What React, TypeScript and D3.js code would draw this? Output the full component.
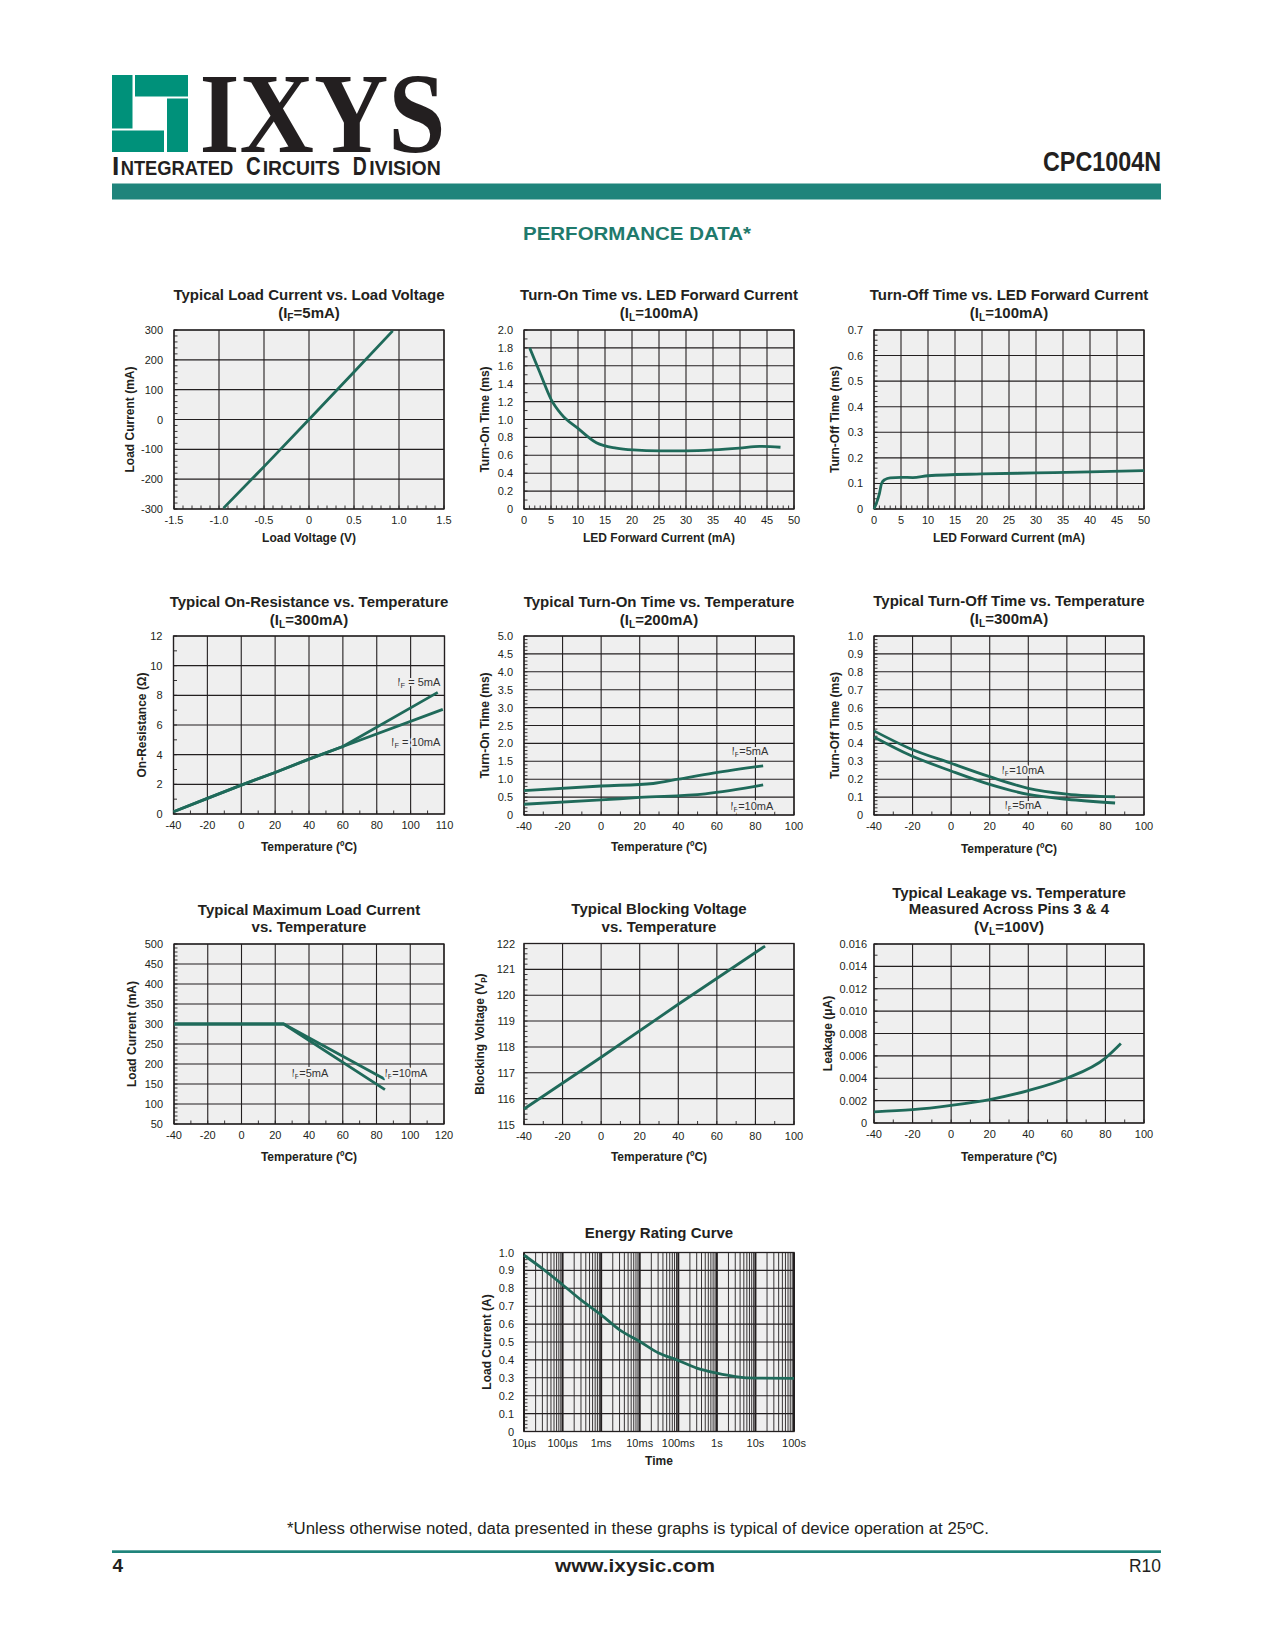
import React from 'react';
import * as d3 from 'd3';

const FONT = '"Liberation Sans", Arial, Helvetica, sans-serif';
const NARROW = '"Liberation Sans Narrow", "Liberation Sans", Arial, sans-serif';
const SERIF = '"Liberation Serif", "Times New Roman", serif';
const CURVE = '#1f6a5a';
const BG = '#efefef';
const INK = '#231f20';
const LOGO = '#00917a';
const BAND = '#1f847b';
const TEAL = '#1f7a6c';

// ---------- data ----------
// 1. Load current vs load voltage
const lvVoltage = [-0.95, -0.5, 0, 0.5, 0.93];
const lvCurrent = [-297, -158, 0, 159, 297];
// 2. Turn-on time vs LED forward current
const tonIfCurrent = [1.05, 2.9, 5.06, 6.9, 10, 13.4, 17.1, 20.2, 25.1, 30.1, 35, 39.9, 43.6, 47.5];
const tonIfTime = [1.8, 1.53, 1.22, 1.06, 0.9, 0.74, 0.68, 0.66, 0.65, 0.65, 0.66, 0.68, 0.7, 0.69];
// 3. Turn-off time vs LED forward current
const toffIfCurrent = [0, 0.4, 1.0, 1.4, 2, 3, 5, 7.2, 10, 20, 30, 40, 50];
const toffIfTime = [0, 0.02, 0.06, 0.1, 0.115, 0.122, 0.124, 0.123, 0.13, 0.137, 0.141, 0.145, 0.15];
// 4. On-resistance vs temperature
const ronTemp5 = [-40, -20, 0, 20, 40, 60, 116];
const ronOhm5 = [0.15, 1.05, 1.95, 2.8, 3.7, 4.55, 8.2];
const ronTemp10 = [-40, -20, 0, 20, 40, 60, 119];
const ronOhm10 = [0.15, 1.05, 1.95, 2.8, 3.7, 4.55, 7.05];
// 5. Turn-on time vs temperature
const tonTemp5 = [-40, 0, 27, 40, 58, 84];
const tonMs5 = [0.68, 0.81, 0.88, 1.0, 1.17, 1.37];
const tonTemp10 = [-40, 0, 20, 54, 84];
const tonMs10 = [0.3, 0.42, 0.49, 0.59, 0.84];
// 6. Turn-off time vs temperature
const toffTemp = [-40, -21.5, 0, 20, 40, 60, 85];
const toffMs10 = [0.47, 0.372, 0.289, 0.214, 0.149, 0.117, 0.102];
const toffMs5 = [0.436, 0.335, 0.246, 0.171, 0.115, 0.088, 0.067];
// 7. Max load current vs temperature
const maxTemp = [-40, 25, 85];
const maxCur5 = [300, 300, 136];
const maxCur10 = [300, 300, 162];
// 8. Blocking voltage vs temperature
const blkTemp = [-40, 0, 40, 85];
const blkVolt = [115.6, 117.6, 119.65, 121.9];
// 9. Leakage vs temperature
const lkTemp = [-40, -20, 0, 20, 40, 60, 80, 88];
const lkCur = [0.001, 0.00119, 0.00158, 0.0021, 0.0029, 0.004, 0.0058, 0.0071];
// 10. Energy rating curve
const erTime = [1e-5, 3e-5, 1e-4, 3e-4, 1e-3, 3e-3, 1e-2, 3e-2, 0.1, 0.3, 1, 3, 10, 100];
const erCur = [0.985, 0.91, 0.82, 0.735, 0.652, 0.568, 0.503, 0.44, 0.397, 0.354, 0.326, 0.307, 0.298, 0.297];

// ---------- tick labels ----------
const xLabLV = ['-1.5', '-1.0', '-0.5', '0', '0.5', '1.0', '1.5'];
const yLabLV = ['-300', '-200', '-100', '0', '100', '200', '300'];
const xLabIF = ['0', '5', '10', '15', '20', '25', '30', '35', '40', '45', '50'];
const yLabTon = ['0', '0.2', '0.4', '0.6', '0.8', '1.0', '1.2', '1.4', '1.6', '1.8', '2.0'];
const yLabToff = ['0', '0.1', '0.2', '0.3', '0.4', '0.5', '0.6', '0.7'];
const xLabRon = ['-40', '-20', '0', '20', '40', '60', '80', '100', '110'];
const yLabRon = ['0', '2', '4', '6', '8', '10', '12'];
const xLabT100 = ['-40', '-20', '0', '20', '40', '60', '80', '100'];
const yLabTonT = ['0', '0.5', '1.0', '1.5', '2.0', '2.5', '3.0', '3.5', '4.0', '4.5', '5.0'];
const yLabToffT = ['0', '0.1', '0.2', '0.3', '0.4', '0.5', '0.6', '0.7', '0.8', '0.9', '1.0'];
const xLabT120 = ['-40', '-20', '0', '20', '40', '60', '80', '100', '120'];
const yLabMax = ['50', '100', '150', '200', '250', '300', '350', '400', '450', '500'];
const yLabBlk = ['115', '116', '117', '118', '119', '120', '121', '122'];
const yLabLk = ['0', '0.002', '0.004', '0.006', '0.008', '0.010', '0.012', '0.014', '0.016'];
const xLabER = ['10µs', '100µs', '1ms', '10ms', '100ms', '1s', '10s', '100s'];
const yLabER = ['0', '0.1', '0.2', '0.3', '0.4', '0.5', '0.6', '0.7', '0.8', '0.9', '1.0'];

function rng(a: number, b: number, s: number): number[] {
  const n = Math.round((b - a) / s);
  return d3.range(0, n + 1).map((i) => +(a + i * s).toFixed(8));
}

function sub(main: string, s: string, rest: string, fs: number) {
  return [
    <tspan key="a">{main}</tspan>,
    <tspan key="b" fontSize={fs * 0.68} dy={fs * 0.22}>{s}</tspan>,
    <tspan key="c" dy={-fs * 0.22}>{rest}</tspan>,
  ];
}

type Ln = { xs: number[]; ys: number[]; smooth?: boolean };
type Lbl = { node: React.ReactNode; x: number; y: number; anchor: 'start' | 'middle' | 'end' };
interface Cfg {
  x0: number; y0: number; w: number; h: number;
  xDomain: [number, number]; yDomain: [number, number]; log?: boolean;
  xGrid: number[]; yGrid: number[]; xLabels: string[]; yLabels: string[];
  xMinor: number[]; yMinor: number[]; xMinorGrid?: number[];
  title: React.ReactNode[]; titleY: number[];
  xTitle: React.ReactNode; xTitleY: number; yTitle: React.ReactNode; yTitleX: number;
  lines: Ln[]; labels?: Lbl[]; yLabelGap?: number; xMajorWidth?: number;
}

const TFS = 15;
const LFS = 11;

function Chart({ c }: { c: Cfg }) {
  const xs: any = (c.log ? d3.scaleLog() : d3.scaleLinear()).domain(c.xDomain).range([c.x0, c.x0 + c.w]);
  const ys = d3.scaleLinear().domain(c.yDomain).range([c.y0 + c.h, c.y0]);
  const bottom = c.y0 + c.h;
  const cx = c.x0 + c.w / 2;
  const gap = c.yLabelGap ?? 10;
  return (
    <g>
      <rect x={c.x0} y={c.y0} width={c.w} height={c.h} fill={BG} />
      {(c.xMinorGrid || []).map((v, i) => (
        <line key={'mg' + i} x1={xs(v)} x2={xs(v)} y1={c.y0} y2={bottom} stroke={INK} strokeWidth={0.9} />
      ))}
      {c.xGrid.map((v, i) => (
        <line key={'xg' + i} x1={xs(v)} x2={xs(v)} y1={c.y0} y2={bottom} stroke={INK} strokeWidth={c.xMajorWidth ?? 1.1} />
      ))}
      {c.yGrid.map((v, i) => (
        <line key={'yg' + i} x1={c.x0} x2={c.x0 + c.w} y1={ys(v)} y2={ys(v)} stroke={INK} strokeWidth={1.1} />
      ))}
      {c.xMinor.map((v, i) => (
        <line key={'xm' + i} x1={xs(v)} x2={xs(v)} y1={bottom} y2={bottom - 3.5} stroke={INK} strokeWidth={0.9} />
      ))}
      {c.yMinor.map((v, i) => (
        <line key={'ym' + i} x1={c.x0} x2={c.x0 + 3.5} y1={ys(v)} y2={ys(v)} stroke={INK} strokeWidth={0.9} />
      ))}
      <rect x={c.x0} y={c.y0} width={c.w} height={c.h} fill="none" stroke={INK} strokeWidth={1.3} />
      {c.lines.map((l, i) => {
        const pts: [number, number][] = l.xs.map((x, j) => [x, l.ys[j]]);
        const gen = d3
          .line<[number, number]>()
          .x((d) => xs(d[0]))
          .y((d) => ys(d[1]))
          .curve(l.smooth ? d3.curveMonotoneX : d3.curveLinear);
        return <path key={'l' + i} d={gen(pts) || ''} fill="none" stroke={CURVE} strokeWidth={2.8} strokeLinejoin="round" />;
      })}
      {(c.labels || []).map((lb, i) => (
        <text
          key={'lb' + i}
          x={xs(lb.x)}
          y={ys(lb.y)}
          dy="0.35em"
          textAnchor={lb.anchor}
          fontFamily={NARROW}
          fontSize={11}
          fill="#333"
          stroke={BG}
          strokeWidth={4}
          strokeLinejoin="round"
          paintOrder="stroke"
        >
          {lb.node}
        </text>
      ))}
      {c.xGrid.map((v, i) => (
        <text key={'xl' + i} x={xs(v)} y={bottom + 15} textAnchor="middle" fontSize={LFS} fill={INK}>
          {c.xLabels[i]}
        </text>
      ))}
      {c.yGrid.map((v, i) => (
        <text key={'yl' + i} x={c.x0 - gap} y={ys(v) + 4} textAnchor="end" fontSize={LFS} fill={INK}>
          {c.yLabels[i]}
        </text>
      ))}
      {c.title.map((t, i) => (
        <text key={'t' + i} x={cx} y={c.titleY[i]} textAnchor="middle" fontSize={TFS} fontWeight="bold" fill={INK}>
          {t}
        </text>
      ))}
      <text x={cx} y={c.xTitleY} textAnchor="middle" fontSize={12} fontWeight="bold" fill={INK}>
        {c.xTitle}
      </text>
      <text
        transform={`translate(${c.yTitleX + 4.3},${c.y0 + c.h / 2}) rotate(-90)`}
        textAnchor="middle"
        fontSize={12}
        fontWeight="bold"
        fill={INK}
      >
        {c.yTitle}
      </text>
    </g>
  );
}

const tempTitle = 'Temperature (ºC)';
const erDecades = d3.range(-5, 3).map((p) => Math.pow(10, p));
const erMinor = d3.range(-5, 2).flatMap((p) => d3.range(2, 10).map((k) => k * Math.pow(10, p)));

const charts: Cfg[] = [
  {
    x0: 174, y0: 330, w: 270, h: 179, xDomain: [-1.5, 1.5], yDomain: [-300, 300],
    xGrid: rng(-1.5, 1.5, 0.5), yGrid: rng(-300, 300, 100), xLabels: xLabLV, yLabels: yLabLV,
    xMinor: rng(-1.5, 1.5, 0.1), yMinor: rng(-300, 300, 20),
    title: ['Typical Load Current vs. Load Voltage', sub('(I', 'F', '=5mA)', TFS)], titleY: [300, 317.5],
    xTitle: 'Load Voltage (V)', xTitleY: 541.5, yTitle: 'Load Current (mA)', yTitleX: 130,
    lines: [{ xs: lvVoltage, ys: lvCurrent }], yLabelGap: 11,
  },
  {
    x0: 524, y0: 330, w: 270, h: 179, xDomain: [0, 50], yDomain: [0, 2],
    xGrid: rng(0, 50, 5), yGrid: rng(0, 2, 0.2), xLabels: xLabIF, yLabels: yLabTon,
    xMinor: rng(0, 50, 1), yMinor: rng(0, 2, 0.1),
    title: ['Turn-On Time vs. LED Forward Current', sub('(I', 'L', '=100mA)', TFS)], titleY: [300, 317.5],
    xTitle: 'LED Forward Current (mA)', xTitleY: 541.5, yTitle: 'Turn-On Time (ms)', yTitleX: 485,
    lines: [{ xs: tonIfCurrent, ys: tonIfTime, smooth: true }], yLabelGap: 11,
  },
  {
    x0: 874, y0: 330, w: 270, h: 179, xDomain: [0, 50], yDomain: [0, 0.7],
    xGrid: rng(0, 50, 5), yGrid: rng(0, 0.7, 0.1), xLabels: xLabIF, yLabels: yLabToff,
    xMinor: rng(0, 50, 1), yMinor: rng(0, 0.7, 0.02),
    title: ['Turn-Off Time vs. LED Forward Current', sub('(I', 'L', '=100mA)', TFS)], titleY: [300, 317.5],
    xTitle: 'LED Forward Current (mA)', xTitleY: 541.5, yTitle: 'Turn-Off Time (ms)', yTitleX: 835,
    lines: [{ xs: toffIfCurrent, ys: toffIfTime, smooth: true }], yLabelGap: 11,
  },
  {
    x0: 173.5, y0: 636, w: 271, h: 178, xDomain: [-40, 120], yDomain: [0, 12],
    xGrid: rng(-40, 120, 20), yGrid: rng(0, 12, 2), xLabels: xLabRon, yLabels: yLabRon,
    xMinor: rng(-40, 120, 10), yMinor: rng(0, 12, 1),
    title: ['Typical On-Resistance vs. Temperature', sub('(I', 'L', '=300mA)', TFS)], titleY: [607, 624.5],
    xTitle: tempTitle, xTitleY: 851, yTitle: 'On-Resistance (Ω)', yTitleX: 142,
    lines: [{ xs: ronTemp5, ys: ronOhm5 }, { xs: ronTemp10, ys: ronOhm10 }], yLabelGap: 11,
    labels: [
      { node: sub('I', 'F', ' = 5mA', 11), x: 117.5, y: 8.9, anchor: 'end' },
      { node: sub('I', 'F', ' = 10mA', 11), x: 117.5, y: 4.85, anchor: 'end' },
    ],
  },
  {
    x0: 524, y0: 636, w: 270, h: 179, xDomain: [-40, 100], yDomain: [0, 5],
    xGrid: rng(-40, 100, 20), yGrid: rng(0, 5, 0.5), xLabels: xLabT100, yLabels: yLabTonT,
    xMinor: rng(-40, 100, 10), yMinor: rng(0, 5, 0.1),
    title: ['Typical Turn-On Time vs. Temperature', sub('(I', 'L', '=200mA)', TFS)], titleY: [607, 624.5],
    xTitle: tempTitle, xTitleY: 851, yTitle: 'Turn-On Time (ms)', yTitleX: 485,
    lines: [{ xs: tonTemp5, ys: tonMs5, smooth: true }, { xs: tonTemp10, ys: tonMs10, smooth: true }], yLabelGap: 11,
    labels: [
      { node: sub('I', 'F', '=5mA', 11), x: 77.2, y: 1.79, anchor: 'middle' },
      { node: sub('I', 'F', '=10mA', 11), x: 78.2, y: 0.25, anchor: 'middle' },
    ],
  },
  {
    x0: 874, y0: 636, w: 270, h: 179, xDomain: [-40, 100], yDomain: [0, 1],
    xGrid: rng(-40, 100, 20), yGrid: rng(0, 1, 0.1), xLabels: xLabT100, yLabels: yLabToffT,
    xMinor: rng(-40, 100, 10), yMinor: rng(0, 1, 0.02),
    title: ['Typical Turn-Off Time vs. Temperature', sub('(I', 'L', '=300mA)', TFS)], titleY: [606, 623.5],
    xTitle: tempTitle, xTitleY: 852.5, yTitle: 'Turn-Off Time (ms)', yTitleX: 835,
    lines: [{ xs: toffTemp, ys: toffMs10, smooth: true }, { xs: toffTemp, ys: toffMs5, smooth: true }], yLabelGap: 11,
    labels: [
      { node: sub('I', 'F', '=10mA', 11), x: 37.3, y: 0.251, anchor: 'middle' },
      { node: sub('I', 'F', '=5mA', 11), x: 37.3, y: 0.056, anchor: 'middle' },
    ],
  },
  {
    x0: 174, y0: 944, w: 270, h: 180, xDomain: [-40, 120], yDomain: [50, 500],
    xGrid: rng(-40, 120, 20), yGrid: rng(50, 500, 50), xLabels: xLabT120, yLabels: yLabMax,
    xMinor: rng(-40, 120, 10), yMinor: rng(50, 500, 10),
    title: ['Typical Maximum Load Current', 'vs. Temperature'], titleY: [914.5, 931.5],
    xTitle: tempTitle, xTitleY: 1160.5, yTitle: 'Load Current (mA)', yTitleX: 132,
    lines: [{ xs: maxTemp, ys: maxCur5 }, { xs: maxTemp, ys: maxCur10 }], yLabelGap: 11,
    labels: [
      { node: sub('I', 'F', '=5mA', 11), x: 40.6, y: 177.5, anchor: 'middle' },
      { node: sub('I', 'F', '=10mA', 11), x: 97.5, y: 177.5, anchor: 'middle' },
    ],
  },
  {
    x0: 524, y0: 943.5, w: 270, h: 181, xDomain: [-40, 100], yDomain: [115, 122],
    xGrid: rng(-40, 100, 20), yGrid: rng(115, 122, 1), xLabels: xLabT100, yLabels: yLabBlk,
    xMinor: rng(-40, 100, 10), yMinor: rng(115, 122, 0.2),
    title: ['Typical Blocking Voltage', 'vs. Temperature'], titleY: [914, 931.5],
    xTitle: tempTitle, xTitleY: 1160.5, yTitle: sub('Blocking Voltage (V', 'P', ')', 12), yTitleX: 480,
    lines: [{ xs: blkTemp, ys: blkVolt }], yLabelGap: 9,
  },
  {
    x0: 874, y0: 944, w: 270, h: 179, xDomain: [-40, 100], yDomain: [0, 0.016],
    xGrid: rng(-40, 100, 20), yGrid: rng(0, 0.016, 0.002), xLabels: xLabT100, yLabels: yLabLk,
    xMinor: rng(-40, 100, 10), yMinor: rng(0, 0.016, 0.001),
    title: ['Typical Leakage vs. Temperature', 'Measured Across Pins 3 & 4', sub('(V', 'L', '=100V)', TFS)],
    titleY: [898, 914, 932],
    xTitle: tempTitle, xTitleY: 1160.5, yTitle: 'Leakage (μA)', yTitleX: 828,
    lines: [{ xs: lkTemp, ys: lkCur, smooth: true }], yLabelGap: 7,
  },
  {
    x0: 524, y0: 1252.5, w: 270, h: 179, xDomain: [1e-5, 100], yDomain: [0, 1], log: true,
    xGrid: erDecades, yGrid: rng(0, 1, 0.1), xLabels: xLabER, yLabels: yLabER,
    xMinor: [], yMinor: rng(0, 1, 0.02), xMinorGrid: erMinor, xMajorWidth: 2,
    title: ['Energy Rating Curve'], titleY: [1238],
    xTitle: 'Time', xTitleY: 1464.5, yTitle: 'Load Current (A)', yTitleX: 487,
    lines: [{ xs: erTime, ys: erCur, smooth: true }], yLabelGap: 10,
  },
];

function Header() {
  const hf = { fontFamily: NARROW, fontWeight: 'bold' as const, fill: INK, lengthAdjust: 'spacingAndGlyphs' };
  return (
    <g>
      <rect x={112} y={75} width={20.5} height={53.5} fill={LOGO} />
      <rect x={135} y={75} width={53} height={21.5} fill={LOGO} />
      <rect x={167} y={98.5} width={21} height={53.5} fill={LOGO} />
      <rect x={112} y={130.5} width={52} height={21.5} fill={LOGO} />
      <text x={199.5} y={151.5} fontFamily={SERIF} fontWeight="bold" fontSize={114} textLength={246} lengthAdjust="spacingAndGlyphs" fill={INK}>
        IXYS
      </text>
      <text x={112} y={175} fontSize={25} textLength={7.3} {...hf}>I</text>
      <text x={120.7} y={175} fontSize={21} textLength={112.6} {...hf}>NTEGRATED</text>
      <text x={246} y={175} fontSize={25} textLength={14.7} {...hf}>C</text>
      <text x={262.7} y={175} fontSize={21} textLength={77.3} {...hf}>IRCUITS</text>
      <text x={352.7} y={175} fontSize={25} textLength={14} {...hf}>D</text>
      <text x={369.3} y={175} fontSize={21} textLength={71.4} {...hf}>IVISION</text>
      <rect x={112} y={183.5} width={1049} height={16} fill={BAND} />
      <text x={1161} y={171} textAnchor="end" fontFamily={NARROW} fontWeight="bold" fontSize={27} textLength={118} lengthAdjust="spacingAndGlyphs" fill={INK}>
        CPC1004N
      </text>
      <text x={637} y={240} textAnchor="middle" fontFamily={FONT} fontWeight="bold" fontSize={19} textLength={228} lengthAdjust="spacingAndGlyphs" fill={TEAL}>
        PERFORMANCE DATA*
      </text>
    </g>
  );
}

function Footer() {
  return (
    <g>
      <text x={638} y={1533.5} textAnchor="middle" fontFamily={NARROW} fontSize={16} textLength={702} lengthAdjust="spacingAndGlyphs" fill={INK}>
        *Unless otherwise noted, data presented in these graphs is typical of device operation at 25ºC.
      </text>
      <rect x={112} y={1550.3} width={1049} height={2.7} fill={BAND} />
      <text x={112.5} y={1572} fontFamily={NARROW} fontWeight="bold" fontSize={19} fill={INK}>4</text>
      <text x={635} y={1572} textAnchor="middle" fontFamily={NARROW} fontWeight="bold" fontSize={19} textLength={160} lengthAdjust="spacingAndGlyphs" fill={INK}>
        www.ixysic.com
      </text>
      <text x={1161} y={1572} textAnchor="end" fontFamily={NARROW} fontSize={18} textLength={32} lengthAdjust="spacingAndGlyphs" fill={INK}>
        R10
      </text>
    </g>
  );
}

export default function App() {
  return (
    <svg
      width={1275}
      height={1650}
      viewBox="0 0 1275 1650"
      style={{ position: 'absolute', left: 0, top: 0, background: '#fff' }}
      fontFamily={FONT}
    >
      <rect width={1275} height={1650} fill="#fff" />
      <Header />
      {charts.map((c, i) => (
        <Chart key={i} c={c} />
      ))}
      <Footer />
    </svg>
  );
}
